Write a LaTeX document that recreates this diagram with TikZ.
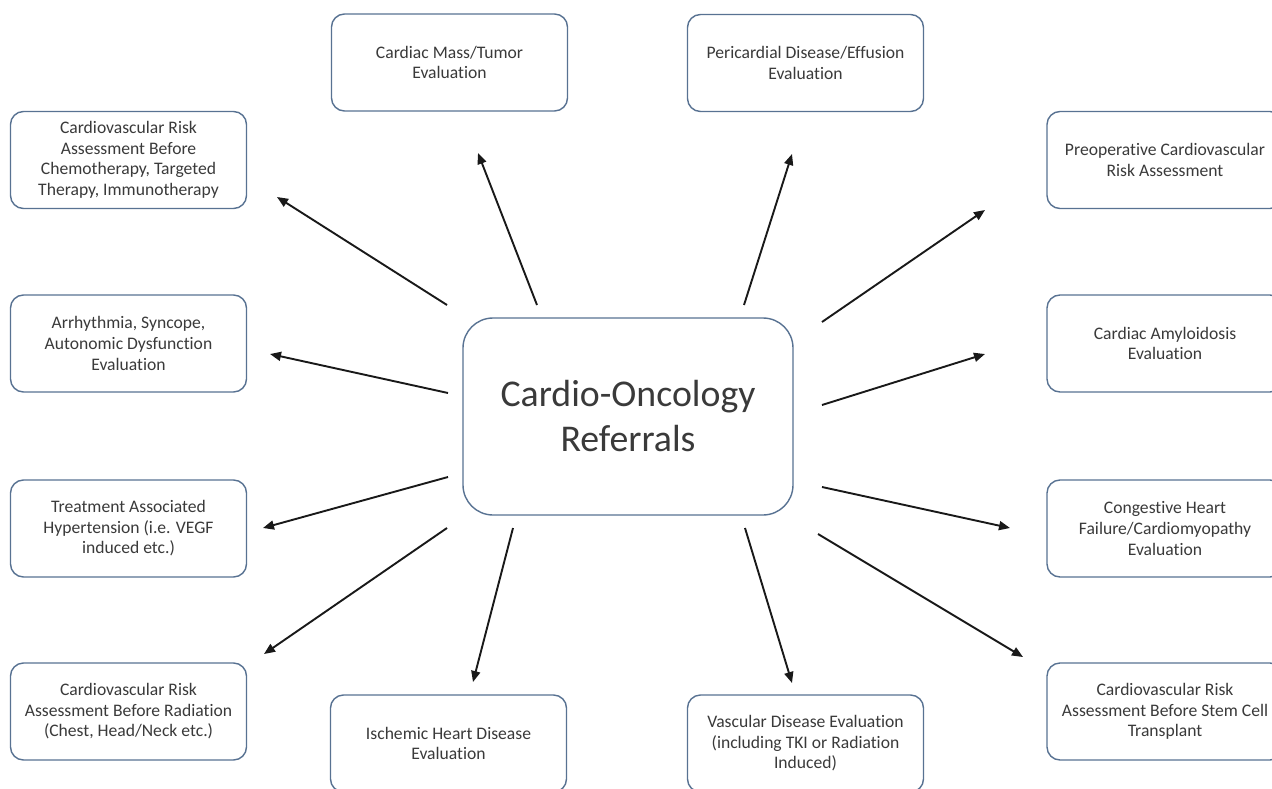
\documentclass[tikz,border=0pt]{standalone}
\usepackage{fontspec}
\setmainfont{Carlito}[Ligatures={NoCommon}]
\usetikzlibrary{arrows.meta}
\definecolor{boxline}{RGB}{88,114,146}
\definecolor{txt}{RGB}{58,58,58}
\begin{document}
\begin{tikzpicture}[x=1pt,y=-1pt,
  refbox/.style={draw=boxline,line width=1.4pt,rounded corners=13pt,fill=white,
    minimum width=236pt,minimum height=97pt,align=center,text=txt,
    font=\fontsize{17.6}{20.6}\selectfont,inner sep=0pt},
  hubbox/.style={draw=boxline,line width=1.4pt,rounded corners=30pt,fill=white,
    minimum width=330pt,minimum height=197pt,align=center,text=txt,
    font=\fontsize{37.8}{45}\selectfont,inner sep=0pt},
  conn/.style={draw=black!90,line width=1.9pt,-{Triangle[length=11pt,width=9pt]}}]
\useasboundingbox (0,0) rectangle (1272,789);
\clip (0,0) rectangle (1272,789);
\fill[white] (0,0) rectangle (1272,789);

\node[hubbox] (hub) at (628,416.5) {Cardio-Oncology\\Referrals};

\node[refbox] (chemo) at (128.5,160) {Cardiovascular Risk\\Assessment Before\\Chemotherapy, Targeted\\Therapy, Immunotherapy};
\node[refbox] (mass) at (449.5,62.5) {Cardiac Mass/Tumor\\Evaluation};
\node[refbox] (peri) at (805.5,63) {Pericardial Disease/Effusion\\Evaluation};
\node[refbox] (preop) at (1165,160) {Preoperative Cardiovascular\\Risk Assessment};
\node[refbox] (arr) at (128.5,343.5) {Arrhythmia, Syncope,\\Autonomic Dysfunction\\Evaluation};
\node[refbox] (amy) at (1165,343.5) {Cardiac Amyloidosis\\Evaluation};
\node[refbox] (hyp) at (128.5,528.5) {Treatment Associated\\Hypertension (i.e. VEGF\\induced etc.)};
\node[refbox] (chf) at (1165,528.5) {Congestive Heart\\Failure/Cardiomyopathy\\Evaluation};
\node[refbox] (rad) at (128.5,711.5) {Cardiovascular Risk\\Assessment Before Radiation\\(Chest, Head/Neck etc.)};
\node[refbox] (stem) at (1165,711.5) {Cardiovascular Risk\\Assessment Before Stem Cell\\Transplant};
\node[refbox] (isch) at (448.5,743.5) {Ischemic Heart Disease\\Evaluation};
\node[refbox] (vasc) at (805.5,743.5) {Vascular Disease Evaluation\\(including TKI or Radiation\\Induced)};

% arrow ends
\coordinate (s1) at (447,305);  \coordinate (e1) at (277,197);
\coordinate (s2) at (537,305);  \coordinate (e2) at (478,153);
\coordinate (s3) at (744,305);  \coordinate (e3) at (792,154);
\coordinate (s4) at (822,322);  \coordinate (e4) at (985,210);
\coordinate (s5) at (448,393);  \coordinate (e5) at (270,354);
\coordinate (s6) at (822,405);  \coordinate (e6) at (985,354);
\coordinate (s7) at (448,477);  \coordinate (e7) at (263,528);
\coordinate (s8) at (822,487);  \coordinate (e8) at (1010,528);
\coordinate (s9) at (447,528);  \coordinate (e9) at (264,654);
\coordinate (s10) at (513,528); \coordinate (e10) at (473,682);
\coordinate (s11) at (745,528); \coordinate (e11) at (792,683);
\coordinate (s12) at (818,534); \coordinate (e12) at (1023,657);

\foreach \i in {1,...,12} {\draw[conn] (s\i) -- (e\i);}
\end{tikzpicture}
\end{document}
